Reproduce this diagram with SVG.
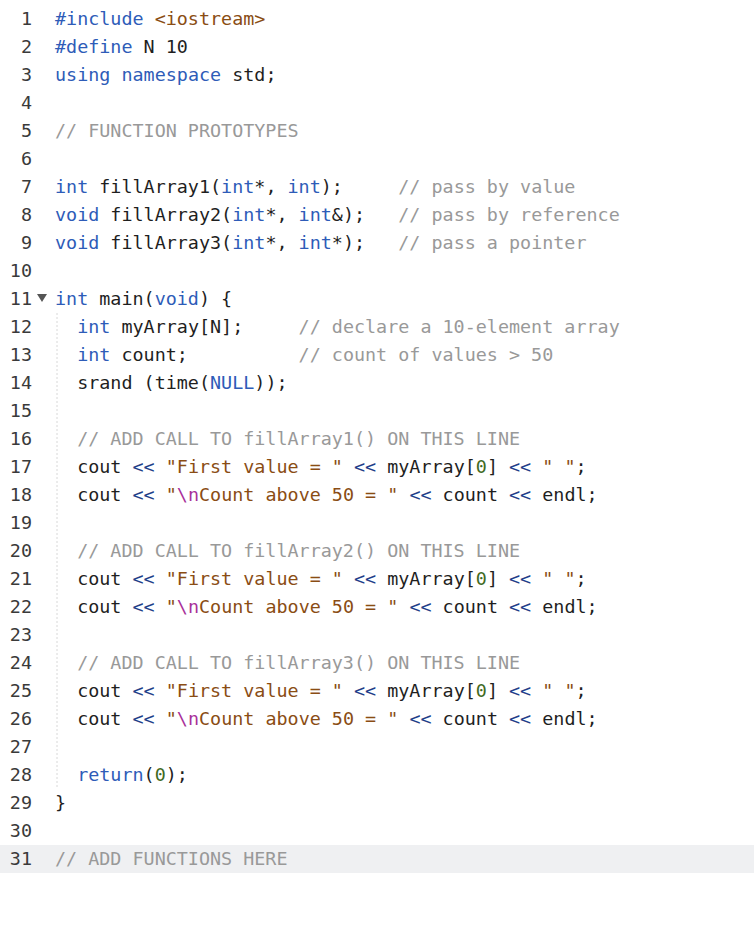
<svg xmlns="http://www.w3.org/2000/svg" width="754" height="928" viewBox="0 0 754 928">
<style>
text{font-family:"DejaVu Sans Mono","Liberation Mono",monospace;font-size:18.4px;fill:#1f1f1f;white-space:pre}
.n{fill:#3a3a3a;text-anchor:end}
.k{fill:#2e5cb8}.s{fill:#8a4d14}.o{fill:#1f3f8a}.d{fill:#3f6b1f}.e{fill:#a8309a}.c{fill:#999999}.p{fill:#8a4d14}
</style>
<rect width="754" height="928" fill="#ffffff"/>
<rect x="0" y="845" width="754" height="28" fill="#eff0f2"/>
<line x1="57" y1="313" x2="57" y2="789" stroke="#d8d8d8" stroke-dasharray="2,2"/>
<path d="M37 294 L47 294 L42 302 Z" fill="#555"/>
<g id="gutter">
<text class="n" x="32" y="25">1</text><text class="n" x="32" y="53">2</text><text class="n" x="32" y="81">3</text><text class="n" x="32" y="109">4</text><text class="n" x="32" y="137">5</text><text class="n" x="32" y="165">6</text><text class="n" x="32" y="193">7</text><text class="n" x="32" y="221">8</text><text class="n" x="32" y="249">9</text><text class="n" x="32" y="277">10</text><text class="n" x="32" y="305">11</text><text class="n" x="32" y="333">12</text><text class="n" x="32" y="361">13</text><text class="n" x="32" y="389">14</text><text class="n" x="32" y="417">15</text><text class="n" x="32" y="445">16</text><text class="n" x="32" y="473">17</text><text class="n" x="32" y="501">18</text><text class="n" x="32" y="529">19</text><text class="n" x="32" y="557">20</text><text class="n" x="32" y="585">21</text><text class="n" x="32" y="613">22</text><text class="n" x="32" y="641">23</text><text class="n" x="32" y="669">24</text><text class="n" x="32" y="697">25</text><text class="n" x="32" y="725">26</text><text class="n" x="32" y="753">27</text><text class="n" x="32" y="781">28</text><text class="n" x="32" y="809">29</text><text class="n" x="32" y="837">30</text><text class="n" x="32" y="865">31</text>
</g>
<g id="code">
<text x="55" y="25"><tspan class="k">#include</tspan> <tspan class="p">&lt;iostream&gt;</tspan></text>
<text x="55" y="53"><tspan class="k">#define</tspan> N 10</text>
<text x="55" y="81"><tspan class="k">using</tspan> <tspan class="k">namespace</tspan> std;</text>
<text x="55" y="137" class="c">// FUNCTION PROTOTYPES</text>
<text x="55" y="193"><tspan class="k">int</tspan> fillArray1(<tspan class="k">int</tspan>*, <tspan class="k">int</tspan>);     <tspan class="c">// pass by value</tspan></text>
<text x="55" y="221"><tspan class="k">void</tspan> fillArray2(<tspan class="k">int</tspan>*, <tspan class="k">int</tspan>&amp;);   <tspan class="c">// pass by reference</tspan></text>
<text x="55" y="249"><tspan class="k">void</tspan> fillArray3(<tspan class="k">int</tspan>*, <tspan class="k">int</tspan>*);   <tspan class="c">// pass a pointer</tspan></text>
<text x="55" y="305"><tspan class="k">int</tspan> main(<tspan class="k">void</tspan>) {</text>
<text x="55" y="333">  <tspan class="k">int</tspan> myArray[N];     <tspan class="c">// declare a 10-element array</tspan></text>
<text x="55" y="361">  <tspan class="k">int</tspan> count;          <tspan class="c">// count of values &gt; 50</tspan></text>
<text x="55" y="389">  srand (time(<tspan class="k">NULL</tspan>));</text>
<text x="55" y="445" class="c">  // ADD CALL TO fillArray1() ON THIS LINE</text>
<text x="55" y="473">  cout <tspan class="o">&lt;&lt;</tspan> <tspan class="s">"First value = "</tspan> <tspan class="o">&lt;&lt;</tspan> myArray[<tspan class="d">0</tspan>] <tspan class="o">&lt;&lt;</tspan> <tspan class="s">" "</tspan>;</text>
<text x="55" y="501">  cout <tspan class="o">&lt;&lt;</tspan> <tspan class="s">"</tspan><tspan class="e">\n</tspan><tspan class="s">Count above 50 = "</tspan> <tspan class="o">&lt;&lt;</tspan> count <tspan class="o">&lt;&lt;</tspan> endl;</text>
<text x="55" y="557" class="c">  // ADD CALL TO fillArray2() ON THIS LINE</text>
<text x="55" y="585">  cout <tspan class="o">&lt;&lt;</tspan> <tspan class="s">"First value = "</tspan> <tspan class="o">&lt;&lt;</tspan> myArray[<tspan class="d">0</tspan>] <tspan class="o">&lt;&lt;</tspan> <tspan class="s">" "</tspan>;</text>
<text x="55" y="613">  cout <tspan class="o">&lt;&lt;</tspan> <tspan class="s">"</tspan><tspan class="e">\n</tspan><tspan class="s">Count above 50 = "</tspan> <tspan class="o">&lt;&lt;</tspan> count <tspan class="o">&lt;&lt;</tspan> endl;</text>
<text x="55" y="669" class="c">  // ADD CALL TO fillArray3() ON THIS LINE</text>
<text x="55" y="697">  cout <tspan class="o">&lt;&lt;</tspan> <tspan class="s">"First value = "</tspan> <tspan class="o">&lt;&lt;</tspan> myArray[<tspan class="d">0</tspan>] <tspan class="o">&lt;&lt;</tspan> <tspan class="s">" "</tspan>;</text>
<text x="55" y="725">  cout <tspan class="o">&lt;&lt;</tspan> <tspan class="s">"</tspan><tspan class="e">\n</tspan><tspan class="s">Count above 50 = "</tspan> <tspan class="o">&lt;&lt;</tspan> count <tspan class="o">&lt;&lt;</tspan> endl;</text>
<text x="55" y="781">  <tspan class="k">return</tspan>(<tspan class="d">0</tspan>);</text>
<text x="55" y="809">}</text>
<text x="55" y="865" class="c">// ADD FUNCTIONS HERE</text>
</g>
</svg>
